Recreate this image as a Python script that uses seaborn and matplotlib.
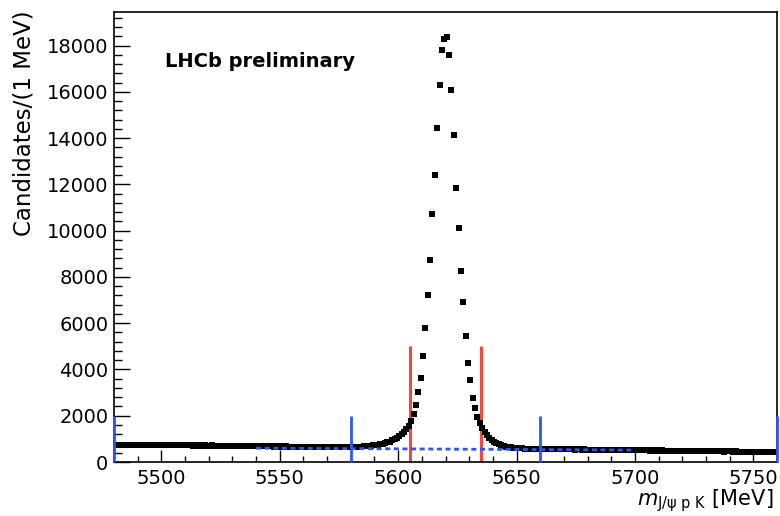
import numpy as np
import pandas as pd
import matplotlib
matplotlib.use("Agg")
import matplotlib.pyplot as plt
import seaborn as sns

# Invariant mass histogram, 1 MeV bins from 5480 to 5760 MeV
bin_lo, bin_hi = 5480.0, 5760.0
mass = np.arange(bin_lo + 0.5, bin_hi, 1.0)

counts = [
    745, 738, 751, 742, 736, 748, 740, 733, 744, 737,
    741, 729, 738, 746, 732, 735, 727, 740, 731, 725,
    734, 722, 730, 719, 728, 736, 721, 717, 726, 731,
    714, 723, 718, 709, 720, 712, 725, 706, 715, 710,
    703, 716, 708, 699, 711, 702, 695, 707, 698, 704,
    693, 700, 688, 697, 685, 694, 689, 681, 692, 684,
    679, 688, 674, 683, 670, 681, 673, 666, 677, 669,
    675, 662, 671, 658, 667, 660, 654, 668, 657, 663,
    651, 660, 646, 655, 643, 652, 648, 640, 654, 645,
    641, 650, 637, 646, 639, 633, 644, 636, 642, 648,
    643, 648, 654, 660, 667, 675, 684, 695, 707, 720,
    735, 752, 772, 795, 820, 850, 885, 930, 980, 1040,
    1110, 1200, 1300, 1420, 1570, 1780, 2070, 2460, 3010, 3640,
    4590, 5810, 7220, 8750, 10720, 12400, 14440, 16310, 17810, 18300,
    18350, 17600, 16100, 14130, 11840, 10100, 8260, 6900, 5450, 4290,
    3540, 2750, 2330, 1960, 1680, 1450, 1280, 1150, 1040, 950,
    880, 812, 768, 722, 697, 664, 651, 627, 618, 602,
    598, 585, 584, 573, 574, 564, 566, 556, 560, 552,
    562, 556, 565, 553, 560, 549, 557, 545, 554, 548,
    549, 552, 541, 548, 537, 545, 541, 533, 543, 536,
    539, 529, 537, 525, 534, 527, 521, 531, 523, 528,
    518, 526, 514, 523, 511, 519, 515, 506, 517, 509,
    513, 502, 510, 498, 507, 500, 494, 505, 496, 501,
    490, 498, 486, 494, 483, 491, 487, 479, 488, 482,
    485, 474, 482, 470, 478, 472, 466, 476, 468, 473,
    463, 471, 459, 467, 456, 464, 460, 452, 461, 455,
    458, 448, 455, 444, 452, 446, 440, 449, 442, 447,
    437, 445, 434, 441, 430, 438, 433, 426, 435, 428,
]

# Signal window (red) and sideband (blue) boundaries
signal_edges = [5605, 5635]
signal_height = 5000
sideband_edges = [5480, 5580, 5660, 5760]
sideband_height = 2000

# Linear background estimate under the peak
bkg_mass = [5540, 5700]
bkg_level = [600, 515]

x_ticks = [5500, 5550, 5600, 5650, 5700, 5750]
y_ticks = [0, 2000, 4000, 6000, 8000, 10000, 12000, 14000, 16000, 18000]

df = pd.DataFrame({"mass": mass, "candidates": counts})

sns.set_style("white")
plt.rcParams["font.family"] = ["DejaVu Sans"]
plt.rcParams["text.color"] = "black"
plt.rcParams["axes.labelcolor"] = "black"
plt.rcParams["xtick.color"] = "black"
plt.rcParams["ytick.color"] = "black"

fig = plt.figure(figsize=(7.8, 5.16), dpi=100)
ax = fig.add_axes([114 / 780, 1 - 462 / 516, 663 / 780, 450 / 516])

red = "#ee4b3a"
blue = "#2f55f5"

ax.vlines(signal_edges, 0, signal_height, colors=red, linewidth=2.2, zorder=2)
ax.vlines(sideband_edges, 0, sideband_height, colors=blue, linewidth=2.0,
          zorder=4, clip_on=False)

sns.scatterplot(data=df, x="mass", y="candidates", ax=ax, marker="s",
                s=13, color="black", linewidth=0, zorder=3, legend=False)

# dashed background line sits over the data points
ax.plot(bkg_mass, bkg_level, color=blue, linewidth=2.0,
        linestyle=(0, (1.8, 1.3)), zorder=5)

ax.set_xlim(bin_lo, bin_hi)
ax.set_ylim(0, 19450)
ax.set_xticks(x_ticks)
ax.set_yticks(y_ticks)
ax.set_xticks(np.arange(5490, 5760, 10), minor=True)
ax.set_yticks(np.arange(0, 19450, 400), minor=True)

ax.tick_params(axis="both", which="both", direction="in", bottom=True,
               left=True, top=False, right=False, width=1.0, color="black",
               labelcolor="black", labelsize=14)
ax.tick_params(axis="x", which="major", length=8.5, pad=5)
ax.tick_params(axis="x", which="minor", length=4.3)
ax.tick_params(axis="y", which="major", length=11.5, pad=4)
ax.tick_params(axis="y", which="minor", length=6)

for side in ["left", "right", "top", "bottom"]:
    ax.spines[side].set_visible(True)
    ax.spines[side].set_color("black")
    ax.spines[side].set_linewidth(1.2)

ax.set_ylabel("Candidates/(1 MeV)", fontsize=16.5, loc="top")
ax.yaxis.set_label_coords(-0.118, 1.004)
ax.set_xlabel(r"$m_{\mathrm{J/\psi\ p\ K}}$ [MeV]", fontsize=15, loc="right")
ax.xaxis.set_label_coords(0.995, -0.055)

ax.text(0.077, 0.889, "LHCb preliminary", transform=ax.transAxes,
        fontsize=14, fontweight="bold", ha="left", va="center")

fig.savefig("out.png", dpi=100)
